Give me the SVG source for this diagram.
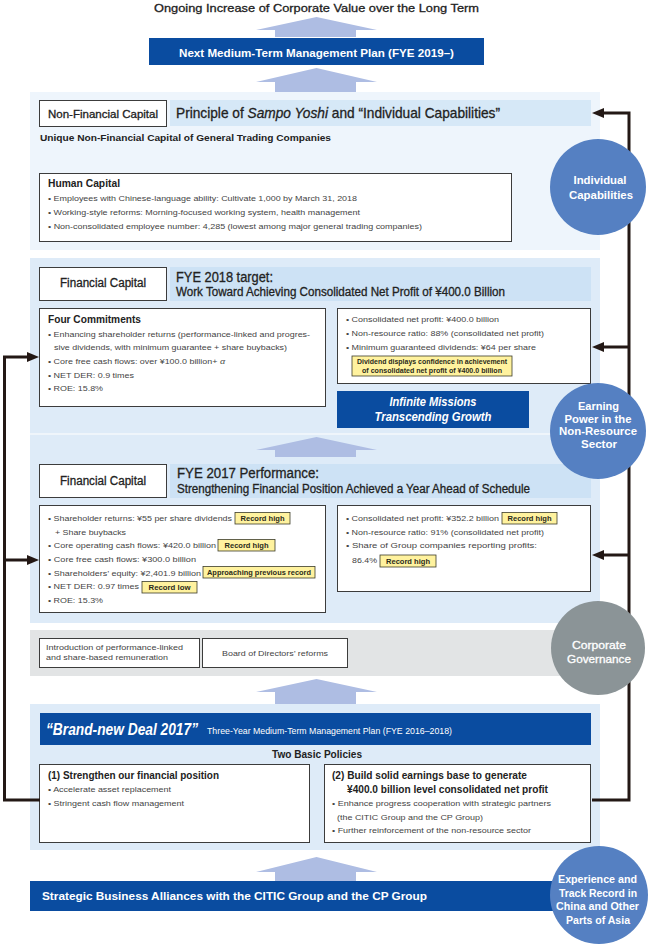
<svg xmlns="http://www.w3.org/2000/svg" width="650" height="947" viewBox="0 0 650 947">
<defs>
<style>
text{font-family:"Liberation Sans",Arial,sans-serif;fill:#333}
.b{font-weight:bold}
.i{font-style:italic}
.med{fill:#222;stroke:#222;stroke-width:0.3}
.sm{font-size:8px;fill:#444}
.box{fill:#fff;stroke:#3c3c3c;stroke-width:1}
.tag{fill:#fff29e;stroke:#3c3c2a;stroke-width:0.8}
.tagt{font-size:7px;font-weight:bold;fill:#2a2a1a}
.dk{fill:#222}
.w{fill:#fff}
.wm{fill:#fff;stroke:#fff;stroke-width:0.3;font-size:11px}
.arw{fill:#aebde3}
.circ{fill:#5580c2}
.navy{fill:#0a4ca0}
.hdr{fill:#cde2f5}
.ln{fill:none;stroke:#231815;stroke-width:3}
.ct{font-size:11.5px;font-weight:bold;fill:#fff}
</style>
<marker id="ah" markerUnits="userSpaceOnUse" markerWidth="12" markerHeight="10" refX="0" refY="5" orient="auto" viewBox="0 0 12 10">
<path d="M0,0 L12,5 L0,10 z" fill="#231815"/>
</marker>
</defs>

<!-- panels -->
<rect x="30" y="92" width="570" height="158" fill="#eef5fc"/>
<rect x="30" y="258" width="570" height="365" fill="#deebf8"/>
<line x1="30" y1="434" x2="600" y2="434" stroke="#f4f8fd" stroke-width="1.5"/>
<rect x="30" y="630" width="570" height="46" fill="#e2e4e5"/>
<rect x="30" y="704" width="570" height="146" fill="#deebf8"/>

<!-- big arrows -->
<g id="arrows">
<polygon class="arw" points="316.5,17 377,30 356,30 356,37 275,37 275,30 256,30"/>
<polygon class="arw" points="316.5,68 377,82 356,82 356,92 275,92 275,82 256,82"/>
<polygon class="arw" points="316.5,437 377,450 356,450 356,457 275,457 275,450 256,450"/>
<polygon class="arw" points="316.5,679 377,692 356,692 356,704 275,704 275,692 256,692"/>
<polygon class="arw" points="316.5,857 377,872 356,872 356,881 275,881 275,872 256,872"/>
</g>

<g id="title">
<text class="med" x="316.5" y="12" font-size="11.5" text-anchor="middle" textLength="325" lengthAdjust="spacingAndGlyphs">Ongoing Increase of Corporate Value over the Long Term</text>
</g>

<g id="next-plan">
<rect class="navy" x="149" y="38" width="335" height="27"/>
<text class="b w" x="316.5" y="56.5" font-size="11" text-anchor="middle" textLength="275" lengthAdjust="spacingAndGlyphs">Next Medium-Term Management Plan (FYE 2019–)</text>
</g>

<g id="nonfinancial">
<rect class="box" x="39.5" y="100.5" width="127" height="26"/>
<text class="med" x="103" y="117.5" font-size="11" text-anchor="middle" textLength="110" lengthAdjust="spacingAndGlyphs">Non-Financial Capital</text>
<rect x="170" y="100" width="421" height="26" fill="#d6e8f7"/>
<text class="med" x="176" y="118" font-size="14.5" textLength="324" lengthAdjust="spacingAndGlyphs">Principle of <tspan class="i">Sampo Yoshi</tspan> and “Individual Capabilities”</text>
<text class="b dk" x="40" y="141" font-size="9.5" textLength="291" lengthAdjust="spacingAndGlyphs">Unique Non-Financial Capital of General Trading Companies</text>
</g>

<g id="human-capital">
<rect class="box" x="39.5" y="173.5" width="472" height="68"/>
<text class="b dk" x="48" y="187" font-size="10.5" textLength="72" lengthAdjust="spacingAndGlyphs">Human Capital</text>
<text class="sm" x="48" y="201" textLength="309" lengthAdjust="spacingAndGlyphs">• Employees with Chinese-language ability: Cultivate 1,000 by March 31, 2018</text>
<text class="sm" x="48" y="215" textLength="312" lengthAdjust="spacingAndGlyphs">• Working-style reforms: Morning-focused working system, health management</text>
<text class="sm" x="48" y="229" textLength="374" lengthAdjust="spacingAndGlyphs">• Non-consolidated employee number: 4,285 (lowest among major general trading companies)</text>
</g>

<g id="fye2018">
<rect class="box" x="39.5" y="267.5" width="127" height="33"/>
<text class="med" x="103" y="287" font-size="12" text-anchor="middle" textLength="86" lengthAdjust="spacingAndGlyphs">Financial Capital</text>
<rect class="hdr" x="170" y="267" width="421" height="34"/>
<text class="med" x="176" y="282" font-size="14" textLength="97" lengthAdjust="spacingAndGlyphs">FYE 2018 target:</text>
<text class="med" x="176" y="296" font-size="12" textLength="329" lengthAdjust="spacingAndGlyphs">Work Toward Achieving Consolidated Net Profit of ¥400.0 Billion</text>
</g>

<g id="four-commitments">
<rect class="box" x="39.5" y="308.5" width="286" height="98"/>
<text class="b dk" x="48" y="323" font-size="10.5" textLength="93" lengthAdjust="spacingAndGlyphs">Four Commitments</text>
<text class="sm" x="48" y="337" textLength="262" lengthAdjust="spacingAndGlyphs">• Enhancing shareholder returns (performance-linked and progres-</text>
<text class="sm" x="54" y="350" textLength="233" lengthAdjust="spacingAndGlyphs">sive dividends, with minimum guarantee + share buybacks)</text>
<text class="sm" x="48" y="364" textLength="177" lengthAdjust="spacingAndGlyphs">• Core free cash flows: over ¥100.0 billion+ <tspan class="i">α</tspan></text>
<text class="sm" x="48" y="378" textLength="86" lengthAdjust="spacingAndGlyphs">• NET DER: 0.9 times</text>
<text class="sm" x="48" y="391" textLength="55" lengthAdjust="spacingAndGlyphs">• ROE: 15.8%</text>
</g>

<g id="target-2018">
<rect class="box" x="337.5" y="308.5" width="253" height="75"/>
<text class="sm" x="346" y="322" textLength="153" lengthAdjust="spacingAndGlyphs">• Consolidated net profit: ¥400.0 billion</text>
<text class="sm" x="346" y="336" textLength="198" lengthAdjust="spacingAndGlyphs">• Non-resource ratio: 88% (consolidated net profit)</text>
<text class="sm" x="346" y="350" textLength="190" lengthAdjust="spacingAndGlyphs">• Minimum guaranteed dividends: ¥64 per share</text>
<rect class="tag" x="352" y="356" width="160" height="20"/>
<text class="tagt" x="432" y="363.5" font-size="6.5" text-anchor="middle" textLength="150" lengthAdjust="spacingAndGlyphs" style="font-size:6.5px">Dividend displays confidence in achievement</text>
<text class="tagt" x="432" y="372.5" text-anchor="middle" textLength="140" lengthAdjust="spacingAndGlyphs" style="font-size:6.5px">of consolidated net profit of ¥400.0 billion</text>
</g>

<g id="infinite-missions">
<rect class="navy" x="337" y="391" width="192" height="37"/>
<text class="b i w" x="433" y="406" font-size="12" text-anchor="middle" textLength="87" lengthAdjust="spacingAndGlyphs">Infinite Missions</text>
<text class="b i w" x="433" y="421" font-size="12" text-anchor="middle" textLength="117" lengthAdjust="spacingAndGlyphs">Transcending Growth</text>
</g>

<g id="fye2017">
<rect class="box" x="39.5" y="464.5" width="127" height="33"/>
<text class="med" x="103" y="485" font-size="12" text-anchor="middle" textLength="86" lengthAdjust="spacingAndGlyphs">Financial Capital</text>
<rect class="hdr" x="170" y="464" width="421" height="34"/>
<text class="med" x="177" y="478" font-size="14" textLength="142" lengthAdjust="spacingAndGlyphs">FYE 2017 Performance:</text>
<text class="med" x="177" y="493" font-size="12" textLength="353" lengthAdjust="spacingAndGlyphs">Strengthening Financial Position Achieved a Year Ahead of Schedule</text>
</g>

<g id="performance-2017-left">
<rect class="box" x="39.5" y="505.5" width="286" height="107"/>
<text class="sm" x="48" y="521" textLength="184" lengthAdjust="spacingAndGlyphs">• Shareholder returns: ¥55 per share dividends</text>
<rect class="tag" x="235" y="512.5" width="55" height="11.5"/>
<text class="tagt" x="262.5" y="521" text-anchor="middle" textLength="44" lengthAdjust="spacingAndGlyphs">Record high</text>
<text class="sm" x="55" y="534.5" textLength="71" lengthAdjust="spacingAndGlyphs">+ Share buybacks</text>
<text class="sm" x="48" y="548" textLength="168" lengthAdjust="spacingAndGlyphs">• Core operating cash flows: ¥420.0 billion</text>
<rect class="tag" x="218" y="539.5" width="57" height="11.5"/>
<text class="tagt" x="246.5" y="548" text-anchor="middle" textLength="44" lengthAdjust="spacingAndGlyphs">Record high</text>
<text class="sm" x="48" y="562" textLength="148" lengthAdjust="spacingAndGlyphs">• Core free cash flows:  ¥300.0 billion</text>
<text class="sm" x="48" y="575.5" textLength="153" lengthAdjust="spacingAndGlyphs">• Shareholders’ equity: ¥2,401.9 billion</text>
<rect class="tag" x="203" y="566.5" width="112" height="11.5"/>
<text class="tagt" x="259" y="575" text-anchor="middle" textLength="104" lengthAdjust="spacingAndGlyphs">Approaching previous record</text>
<text class="sm" x="48" y="589" textLength="91" lengthAdjust="spacingAndGlyphs">• NET DER: 0.97 times</text>
<rect class="tag" x="142" y="581.5" width="55" height="11.5"/>
<text class="tagt" x="169.5" y="590" text-anchor="middle" textLength="42" lengthAdjust="spacingAndGlyphs">Record low</text>
<text class="sm" x="48" y="603" textLength="55" lengthAdjust="spacingAndGlyphs">• ROE: 15.3%</text>
</g>

<g id="performance-2017-right">
<rect class="box" x="337.5" y="505.5" width="253" height="86"/>
<text class="sm" x="346" y="521" textLength="153" lengthAdjust="spacingAndGlyphs">• Consolidated net profit: ¥352.2 billion</text>
<rect class="tag" x="502" y="512.5" width="55" height="11.5"/>
<text class="tagt" x="529.5" y="521" text-anchor="middle" textLength="44" lengthAdjust="spacingAndGlyphs">Record high</text>
<text class="sm" x="346" y="534.5" textLength="198" lengthAdjust="spacingAndGlyphs">• Non-resource ratio: 91% (consolidated net profit)</text>
<text class="sm" x="346" y="548" textLength="191" lengthAdjust="spacingAndGlyphs">• Share of Group companies reporting profits:</text>
<text class="sm" x="352" y="563" textLength="25" lengthAdjust="spacingAndGlyphs">86.4%</text>
<rect class="tag" x="380" y="555" width="56" height="12"/>
<text class="tagt" x="408" y="564" text-anchor="middle" textLength="44" lengthAdjust="spacingAndGlyphs">Record high</text>
</g>

<g id="governance">
<rect class="box" x="39.5" y="638.5" width="160" height="29"/>
<text class="sm" x="46" y="649.5" textLength="137" lengthAdjust="spacingAndGlyphs">Introduction of performance-linked</text>
<text class="sm" x="46" y="659.5" textLength="122" lengthAdjust="spacingAndGlyphs">and share-based remuneration</text>
<rect class="box" x="202.5" y="638.5" width="145" height="29"/>
<text class="sm" x="275" y="655.5" text-anchor="middle" textLength="106" lengthAdjust="spacingAndGlyphs">Board of Directors’ reforms</text>
</g>

<g id="brand-new-deal">
<rect class="navy" x="40" y="713" width="551" height="32"/>
<text class="b i w" x="46" y="735" font-size="16" textLength="152" lengthAdjust="spacingAndGlyphs">“Brand-new Deal 2017”</text>
<text class="w" x="207" y="734" font-size="8.5" textLength="245" lengthAdjust="spacingAndGlyphs">Three-Year Medium-Term Management Plan (FYE 2016–2018)</text>
<text class="b dk" x="317" y="757.5" font-size="10.5" text-anchor="middle" textLength="90" lengthAdjust="spacingAndGlyphs">Two Basic Policies</text>
</g>

<g id="policy-1">
<rect class="box" x="39.5" y="764.5" width="270" height="78"/>
<text class="b dk" x="48" y="778.5" font-size="11" textLength="171" lengthAdjust="spacingAndGlyphs">(1) Strengthen our financial position</text>
<text class="sm" x="48" y="792" textLength="123" lengthAdjust="spacingAndGlyphs">• Accelerate asset replacement</text>
<text class="sm" x="48" y="805.5" textLength="136" lengthAdjust="spacingAndGlyphs">• Stringent cash flow management</text>
</g>

<g id="policy-2">
<rect class="box" x="324.5" y="764.5" width="266" height="78"/>
<text class="b dk" x="332" y="778.5" font-size="11" textLength="195" lengthAdjust="spacingAndGlyphs">(2) Build solid earnings base to generate</text>
<text class="b dk" x="347" y="792.5" font-size="11" textLength="201" lengthAdjust="spacingAndGlyphs">¥400.0 billion level consolidated net profit</text>
<text class="sm" x="332" y="806" textLength="219" lengthAdjust="spacingAndGlyphs">• Enhance progress cooperation with strategic partners</text>
<text class="sm" x="337" y="819.5" textLength="146" lengthAdjust="spacingAndGlyphs">(the CITIC Group and the CP Group)</text>
<text class="sm" x="332" y="833" textLength="199" lengthAdjust="spacingAndGlyphs">• Further reinforcement of the non-resource sector</text>
</g>

<g id="strategic-alliances">
<rect class="navy" x="30" y="881" width="545" height="30"/>
<text class="b w" x="42" y="900" font-size="11" textLength="385" lengthAdjust="spacingAndGlyphs">Strategic Business Alliances with the CITIC Group and the CP Group</text>
</g>

<!-- connectors -->
<g id="connectors">
<path class="ln" d="M592,800 H629 V113 H604" marker-end="url(#ah)"/>
<path class="ln" d="M629,347 H604" marker-end="url(#ah)"/>
<path class="ln" d="M629,555 H604" marker-end="url(#ah)"/>
<path class="ln" d="M40,800 H4.5 V357 H27" marker-end="url(#ah)"/>
<path class="ln" d="M4.5,560 H27" marker-end="url(#ah)"/>
</g>

<g id="circle-individual">
<circle class="circ" cx="598" cy="187" r="48"/>
<text class="ct" x="600" y="184" text-anchor="middle" textLength="53" lengthAdjust="spacingAndGlyphs">Individual</text>
<text class="ct" x="601" y="199" text-anchor="middle" textLength="64" lengthAdjust="spacingAndGlyphs">Capabilities</text>
</g>

<g id="circle-earning">
<circle class="circ" cx="598" cy="431" r="48"/>
<text class="ct" x="598.5" y="410" text-anchor="middle" textLength="41" lengthAdjust="spacingAndGlyphs">Earning</text>
<text class="ct" x="598" y="422.5" text-anchor="middle" textLength="67" lengthAdjust="spacingAndGlyphs">Power in the</text>
<text class="ct" x="598" y="435" text-anchor="middle" textLength="78" lengthAdjust="spacingAndGlyphs">Non-Resource</text>
<text class="ct" x="599" y="447.5" text-anchor="middle" textLength="36" lengthAdjust="spacingAndGlyphs">Sector</text>
</g>

<g id="circle-governance">
<circle cx="598" cy="648" r="47" fill="#8b9497"/>
<text class="wm" x="599" y="649" text-anchor="middle" textLength="54" lengthAdjust="spacingAndGlyphs">Corporate</text>
<text class="wm" x="599" y="663" text-anchor="middle" textLength="64" lengthAdjust="spacingAndGlyphs">Governance</text>
</g>

<g id="circle-experience">
<circle class="circ" cx="599" cy="895" r="49"/>
<text class="ct" x="597.5" y="883" text-anchor="middle" textLength="79" lengthAdjust="spacingAndGlyphs">Experience and</text>
<text class="ct" x="598" y="896.5" text-anchor="middle" textLength="78" lengthAdjust="spacingAndGlyphs">Track Record in</text>
<text class="ct" x="597.5" y="910" text-anchor="middle" textLength="83" lengthAdjust="spacingAndGlyphs">China and Other</text>
<text class="ct" x="598" y="923.5" text-anchor="middle" textLength="64" lengthAdjust="spacingAndGlyphs">Parts of Asia</text>
</g>
</svg>
